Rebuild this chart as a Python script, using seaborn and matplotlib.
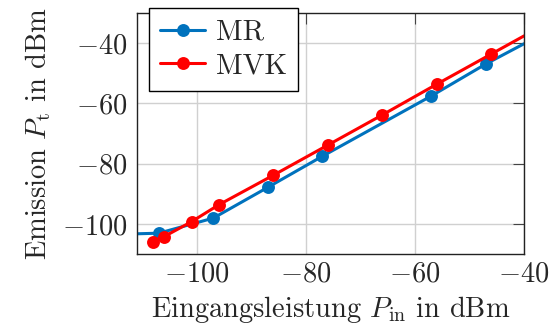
import numpy as np
import pandas as pd
import matplotlib
matplotlib.use("Agg")
import matplotlib.pyplot as plt
import seaborn as sns

# Measured points (markers)
mr_x = [-107, -97, -87, -77, -57, -47]
mr_y = [-103.1, -98.1, -87.9, -77.6, -57.6, -47.0]
mvk_x = [-108, -106, -101, -96, -86, -76, -66, -56, -46]
mvk_y = [-105.9, -104.2, -99.3, -93.7, -83.9, -73.9, -63.9, -53.7, -43.7]

# Where the curves meet the axis edges
mr_left = (-111, -103.3)
mr_right = (-40, -40.3)
mvk_right = (-40, -37.7)

xticks = [-100, -80, -60, -40]
yticks = [-100, -80, -60, -40]
xlim = (-111, -40)
ylim = (-110, -30)

blue = "#0072BD"
red = "#FF0000"

sns.set_style("white")
plt.rcParams["font.family"] = ["cmr10", "DejaVu Serif"]
plt.rcParams["mathtext.fontset"] = "cm"
plt.rcParams["axes.formatter.use_mathtext"] = True
plt.rcParams["axes.unicode_minus"] = True

fig = plt.figure(figsize=(5.56, 3.33), dpi=100)
ax = fig.add_axes([137/556, 1 - 254/333, (524-137)/556, (254-12.7)/333])

mr_df = pd.DataFrame({
    "x": [mr_left[0]] + mr_x + [mr_right[0]],
    "y": [mr_left[1]] + mr_y + [mr_right[1]],
})
mvk_df = pd.DataFrame({
    "x": mvk_x + [mvk_right[0]],
    "y": mvk_y + [mvk_right[1]],
})

sns.lineplot(data=mr_df, x="x", y="y", ax=ax, color=blue, lw=2.2, marker="o",
             markersize=9.3, markeredgewidth=0, markevery=list(range(1, len(mr_x) + 1)),
             sort=False, estimator=None, label="MR")
sns.lineplot(data=mvk_df, x="x", y="y", ax=ax, color=red, lw=2.2, marker="o",
             markersize=9.3, markeredgewidth=0, markevery=list(range(0, len(mvk_x))),
             sort=False, estimator=None, label="MVK")

ax.set_xlim(*xlim)
ax.set_ylim(*ylim)
ax.set_xticks(xticks)
ax.set_yticks(yticks)
ax.grid(True, color="#d0d0d0", lw=1.0)
ax.set_axisbelow(True)
ax.tick_params(direction="in", length=8, width=0.8, color="#444444",
               top=True, right=True, labelsize=20.5)
ax.tick_params(axis="x", pad=5)
ax.tick_params(axis="y", pad=7)
for s in ax.spines.values():
    s.set_color("#222222")
    s.set_linewidth(1.0)

ax.set_xlabel(r"Eingangsleistung $P_\mathrm{in}$ in dBm", fontsize=20.5, labelpad=5)
ax.set_ylabel(r"Emission $P_\mathrm{t}$ in dBm", fontsize=20.5, labelpad=6)

leg = ax.legend(loc="upper left", bbox_to_anchor=(0.03, 1.02), fontsize=21,
                frameon=True, fancybox=False, framealpha=1, edgecolor="black",
                handlelength=1.55, handletextpad=0.35, borderpad=0.4,
                labelspacing=0.25, borderaxespad=0)
leg.get_frame().set_linewidth(1.0)

fig.savefig("out.png", dpi=100)
